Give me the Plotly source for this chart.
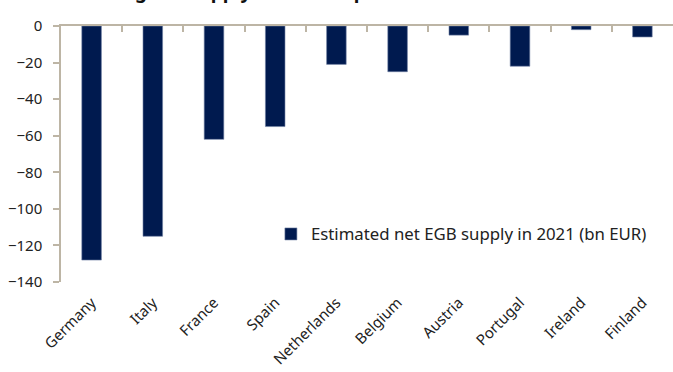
import plotly.graph_objects as go

countries = ["Germany", "Italy", "France", "Spain", "Netherlands",
             "Belgium", "Austria", "Portugal", "Ireland", "Finland"]
net_supply = [-128, -115, -62, -55, -21, -25, -5, -22, -2, -6]
y_ticks = [0, -20, -40, -60, -80, -100, -120, -140]
series_name = "Estimated net EGB supply in 2021 (bn EUR)"
title_text = "Shrinking net supply of EGBs expected"

FONT = "Noto Sans"
AXIS_COL = "#BDB5A5"
BAR_COL = "#001A4F"

fig = go.Figure()
fig.add_trace(go.Bar(
    x=list(range(len(countries))), y=net_supply, name=series_name,
    marker=dict(color=BAR_COL, line=dict(color="#6F7FA3", width=0.6)),
    width=0.32, showlegend=True,
))
# invisible trace to drive the top (zero-line) category tick axis
fig.add_trace(go.Scatter(x=[-0.5, len(countries) - 0.5], y=[0, 0], xaxis="x2",
                         mode="lines", line=dict(width=0), hoverinfo="skip",
                         showlegend=False))

fig.update_layout(
    width=673, height=372,
    margin=dict(l=61, r=0, t=26, b=90),
    paper_bgcolor="white", plot_bgcolor="white",
    font=dict(family=FONT, size=15, color="#222222"),
    title=dict(text="<b>" + title_text + "</b>", font=dict(family=FONT, size=19, color="#111111"),
               x=0.083, xanchor="left", xref="container",
               yref="paper", y=1, yanchor="bottom", pad=dict(b=28)),
    xaxis=dict(
        range=[-0.5, len(countries) - 0.5],
        tickmode="array", tickvals=list(range(len(countries))), ticktext=countries,
        tickangle=-45, ticks="", showline=False, showgrid=False, zeroline=False,
        ticklabelstandoff=8,
        tickfont=dict(family=FONT, size=15, color="#222222"),
    ),
    xaxis2=dict(
        overlaying="x", side="top", anchor="y",
        range=[-0.5, len(countries) - 0.5],
        tickmode="array", tickvals=[i - 0.5 for i in range(len(countries) + 1)],
        showticklabels=False, ticks="inside", ticklen=6, tickwidth=1.5, tickcolor=AXIS_COL,
        showline=True, linecolor=AXIS_COL, linewidth=1.5, showgrid=False, zeroline=False,
    ),
    yaxis=dict(
        range=[-140, 0], tickmode="array", tickvals=y_ticks,
        ticks="outside", ticklen=6, tickwidth=1.5, tickcolor=AXIS_COL,
        showline=True, linecolor=AXIS_COL, linewidth=1.5,
        showgrid=False, zeroline=False, ticklabelstandoff=8,
        tickfont=dict(family=FONT, size=15, color="#222222"),
    ),
    legend=dict(x=0.343, y=0.1875, xanchor="left", yanchor="middle",
                bgcolor="rgba(0,0,0,0)", font=dict(family=FONT, size=16.8, color="#222222")),
    bargap=0.68,
)

fig.write_html("out.html")
